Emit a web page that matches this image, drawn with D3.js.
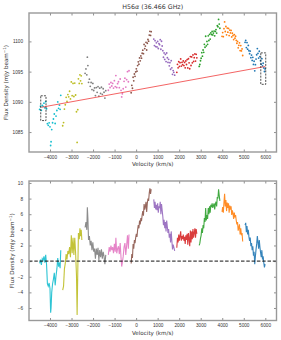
<!DOCTYPE html>
<html>
<head>
<meta charset="utf-8">
<style>
  body { margin: 0; background: #fff; }
  svg { font-family: 'DejaVu Sans', sans-serif; }
  .tick text { font-size: 4.7px; fill: #333; }
  .tick line { stroke: #444; stroke-width: 0.6; }
  .domain { display: none; }
  .label { font-size: 5.6px; fill: #333; }
</style>
</head>
<body>
<svg width="281" height="340"></svg>
<script src="https://d3js.org/d3.v7.min.js"></script>
<script>
// segment data: velocity (km/s) and continuum-subtracted flux (mJy/beam)
const cyanV = [-4480,-4440,-4400,-4360,-4320,-4280,-4240,-4200,-4160,-4120,-4080,-4040,-4000,-3970,-3950,-3920,-3880,-3840,-3800,-3760,-3720,-3680,-3640,-3600,-3560,-3530,-3500];
const cyanR = [-0.3,0.2,-0.5,0.3,0.1,0.6,-0.2,0.8,-0.4,-2.9,-3.2,-2.8,-3.5,-6.6,-6.0,-4.0,-2.9,-2.3,-1.5,-3.1,-1.9,-1.0,0.4,-0.7,-0.2,-0.9,1.4];
const oliveV = [-3410,-3370,-3330,-3290,-3250,-3210,-3170,-3130,-3090,-3050,-3010,-2970,-2930,-2890,-2850,-2810,-2770,-2740,-2710,-2680,-2640,-2610,-2580,-2550,-2520];
const oliveR = [-3.7,-3.2,-1.0,-0.3,0.9,0.2,1.3,0.9,1.8,0.5,3.3,1.0,3.0,0.8,3.0,1.0,-1.8,-6.9,-1.5,3.6,2.8,4.2,3.2,4.0,2.7];
const grayV = [-2370,-2330,-2290,-2265,-2240,-2210,-2170,-2130,-2090,-2050,-2010,-1970,-1930,-1890,-1850,-1810,-1770,-1730,-1690,-1650,-1610,-1570,-1530,-1490,-1450,-1410];
const grayR = [4.3,5.0,4.0,6.9,5.5,2.7,3.2,2.0,2.6,1.4,2.4,1.2,1.6,0.3,1.6,0.8,1.7,0.1,1.4,0.5,1.5,0.3,1.2,0.6,-0.4,0.8];
const pinkV = [-1290,-1250,-1210,-1170,-1130,-1090,-1050,-1010,-970,-940,-900,-860,-820,-780,-740,-700,-670,-640,-600,-560,-520,-480,-440,-400,-360,-330];
const pinkR = [0.8,1.8,1.2,2.0,1.4,1.8,1.0,2.2,1.2,3.0,1.0,1.6,1.9,0.9,2.3,0.4,-0.7,-0.2,0.6,1.8,2.3,0.8,2.0,3.3,1.6,3.4];
const brownV = [-230,-200,-170,-140,-110,-80,-50,-20,10,40,70,100,130,160,190,220,250,280,310,340,370,400,430,460,490,520,550,580,610,640,670,700];
const brownR = [-0.3,0.9,0.4,2.2,1.6,2.7,2.3,3.0,3.5,3.1,4.0,4.6,4.2,5.2,4.7,5.5,5.1,5.9,6.4,5.8,7.3,6.6,7.0,7.6,6.3,7.4,8.0,7.7,8.7,9.3,8.6,9.2];
const purpleV = [820,850,880,910,940,970,1000,1030,1060,1090,1120,1150,1180,1210,1240,1270,1300,1330,1360,1390,1420,1450,1480,1510,1540,1570,1600,1630,1660,1690,1720,1750,1790];
const purpleR = [7.9,6.8,7.6,6.6,7.2,6.5,7.4,6.2,7.0,6.8,7.6,6.0,7.3,6.5,5.7,4.6,5.3,4.2,5.0,3.8,5.2,4.4,3.6,4.1,3.0,3.5,2.4,3.8,2.6,1.5,2.1,1.8,1.3];
const redV = [1890,1920,1950,1980,2010,2040,2070,2100,2130,2160,2190,2220,2250,2280,2310,2340,2370,2400,2430,2460,2490,2520,2550,2580,2610,2640,2670,2700,2730,2760,2790,2820];
const redR = [1.7,3.0,2.4,3.4,2.6,3.2,3.8,2.6,3.2,2.8,3.4,2.6,3.1,2.2,3.3,2.7,3.5,2.1,3.6,2.9,1.9,3.9,2.4,3.8,2.8,4.1,3.0,3.6,4.2,3.0,4.1,3.5];
const greenV = [2930,2960,2990,3020,3050,3080,3110,3140,3170,3200,3230,3260,3290,3320,3350,3380,3410,3440,3470,3500,3530,3560,3590,3620,3650,3680,3710,3740,3770,3800,3830,3860,3890];
const greenR = [2.0,2.3,2.9,3.3,4.2,3.6,4.6,4.2,5.5,5.0,6.8,5.2,5.9,5.4,6.8,6.0,7.0,6.2,7.2,6.9,7.4,6.8,7.1,7.4,6.6,7.3,7.6,7.0,8.2,8.0,9.2,8.4,7.7];
const orangeV = [3990,4020,4050,4080,4110,4140,4170,4200,4230,4260,4290,4320,4350,4380,4410,4440,4470,4500,4530,4560,4590,4620,4650,4680,4710,4740,4770,4800,4830,4860,4890,4920,4950];
const orangeR = [6.3,6.9,6.2,7.5,8.6,7.0,7.8,6.4,7.5,6.8,7.4,6.2,7.1,6.6,7.0,5.9,6.5,6.1,5.4,6.2,5.6,5.9,5.2,4.7,5.0,3.9,4.3,4.7,3.4,4.2,3.3,3.6,2.5];
const blueV = [5060,5090,5120,5150,5180,5210,5240,5270,5300,5330,5360,5390,5420,5450,5480,5510,5540,5570,5600,5630,5660,5690,5720,5750,5780,5810,5840,5870,5900,5930,5960,5990];
const blueR = [4.6,4.9,3.7,4.5,3.4,4.0,3.1,2.6,3.0,1.9,2.3,1.4,1.9,0.7,1.2,-0.4,0.6,1.5,2.2,3.2,2.4,1.6,2.7,1.8,1.1,0.5,1.4,0.2,0.6,-0.2,-0.8,-0.4];

const segVel = [cyanV, oliveV, grayV, pinkV, brownV, purpleV, redV, greenV, orangeV, blueV];
const segRes = [cyanR, oliveR, grayR, pinkR, brownR, purpleR, redR, greenR, orangeR, blueR];
const segColors = ["#17becf","#bcbd22","#7f7f7f","#e377c2","#8c564b","#9467bd","#d62728","#2ca02c","#ff7f0e","#1f77b4"];

// linear continuum and the two fitting windows
const contVel = [-4400, 6000];
const contFlux = [1089.1, 1095.85];
const winVel = [[-4430, -4185], [5790, 6020]];
const winFlux = [[1086.9, 1091.0], [1092.9, 1098.1]];

const xTicks = [-4000,-3000,-2000,-1000,0,1000,2000,3000,4000,5000,6000];
const topTicks = [1085, 1090, 1095, 1100];
const botTicks = [-6,-4,-2,0,2,4,6,8,10];

const svg = d3.select("svg");
const L = 29, R = 276.5;
const topBox = { y0: 13, y1: 152 };
const botBox = { y0: 181, y1: 320.5 };

const x = d3.scaleLinear().domain([-4975, 6520]).range([L, R]);
const yTop = d3.scaleLinear().domain([1081.7, 1104.7]).range([topBox.y1, topBox.y0]);
const yBot = d3.scaleLinear().domain([-7.6, 10.25]).range([botBox.y1, botBox.y0]);
const cont = d3.scaleLinear().domain(contVel).range(contFlux);
const fmt = d3.format("d");

function frame(box, y, yt) {
  let g = svg.append("g");
  g.append("g").attr("transform", `translate(0,${box.y1})`)
    .call(d3.axisBottom(x).tickValues(xTicks).tickSize(-2.5).tickPadding(3.2).tickFormat(fmt));
  g.append("g").attr("transform", `translate(0,${box.y0})`)
    .call(d3.axisTop(x).tickValues(xTicks).tickSize(-2.5).tickFormat(""));
  g.append("g").attr("transform", `translate(${L},0)`)
    .call(d3.axisLeft(y).tickValues(yt).tickSize(-2.5).tickPadding(6).tickFormat(fmt));
  g.append("g").attr("transform", `translate(${R},0)`)
    .call(d3.axisRight(y).tickValues(yt).tickSize(-2.5).tickFormat(""));
  g.append("rect")
    .attr("x", L).attr("y", box.y0)
    .attr("width", R - L).attr("height", box.y1 - box.y0)
    .attr("fill", "none").attr("stroke", "#999").attr("stroke-width", 1.4);
  return g;
}

// ---- top panel
let topPlot = svg.append("g");
segVel.forEach((vs, i) => {
  topPlot.append("g").selectAll("circle")
    .data(vs.map((v, j) => [v, segRes[i][j] + cont(v)]))
    .join("circle")
    .attr("cx", d => x(d[0]))
    .attr("cy", d => yTop(d[1]))
    .attr("r", 0.9)
    .attr("fill", segColors[i]);
});

topPlot.append("line")
  .attr("x1", x(contVel[0])).attr("x2", x(contVel[1]))
  .attr("y1", yTop(contFlux[0])).attr("y2", yTop(contFlux[1]))
  .attr("stroke", "#f03c3c").attr("stroke-width", 0.8);

topPlot.selectAll("rect.win")
  .data(winVel.map((w, i) => [w, winFlux[i]]))
  .join("rect")
  .attr("class", "win")
  .attr("x", d => x(d[0][0]))
  .attr("y", d => yTop(d[1][1]))
  .attr("width", d => x(d[0][1]) - x(d[0][0]))
  .attr("height", d => yTop(d[1][0]) - yTop(d[1][1]))
  .attr("fill", "none").attr("stroke", "#222")
  .attr("stroke-width", 0.8).attr("stroke-dasharray", "2,1.2");

frame(topBox, yTop, topTicks);

// ---- bottom panel
let botPlot = svg.append("g");
let line = d3.line().x(d => x(d[0])).y(d => yBot(d[1]));
segVel.forEach((vs, i) => {
  botPlot.append("path")
    .datum(vs.map((v, j) => [v, segRes[i][j]]))
    .attr("d", line)
    .attr("fill", "none")
    .attr("stroke", segColors[i])
    .attr("stroke-width", 1.1)
    .attr("stroke-opacity", 0.9);
});

botPlot.append("line")
  .attr("x1", L).attr("x2", R)
  .attr("y1", yBot(0)).attr("y2", yBot(0))
  .attr("stroke", "#111").attr("stroke-width", 1)
  .attr("stroke-dasharray", "3.5,1.8");

frame(botBox, yBot, botTicks);

// ---- labels
svg.append("text")
  .attr("x", (L + R) / 2).attr("y", 9)
  .attr("text-anchor", "middle")
  .style("font-size", "6.3px").style("fill", "#333")
  .html('H56<tspan font-style="italic">α</tspan> (36.466 GHz)');

[topBox, botBox].forEach((box, i) => {
  svg.append("text").attr("class", "label")
    .attr("x", (L + R) / 2).attr("y", box.y1 + 14)
    .attr("text-anchor", "middle")
    .text("Velocity (km/s)");
  let ylx = i == 0 ? 7.5 : 13.5;
  svg.append("text").attr("class", "label")
    .attr("transform", `translate(${ylx},${(box.y0 + box.y1) / 2}) rotate(-90)`)
    .attr("text-anchor", "middle")
    .html('Flux Density (mJy beam<tspan dy="-2" font-size="4px">−1</tspan><tspan dy="2">)</tspan>');
});
</script>
</body>
</html>
